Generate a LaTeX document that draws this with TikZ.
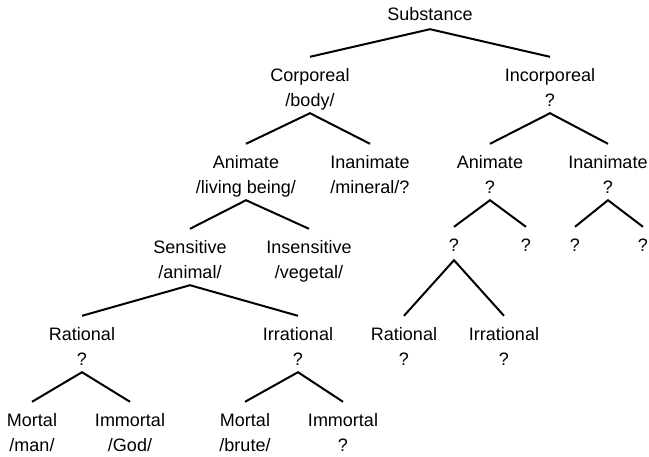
\documentclass[tikz,border=0pt]{standalone}
\usepackage{fontspec}
\setmainfont{Liberation Sans}
\begin{document}
\begin{tikzpicture}[x = 1pt, y = -1pt,
		term/.style = {align=center, inner sep=2pt, text height=47pt, text depth=5pt,
			font=\fontsize{18}{25}\selectfont},
		single/.style = {align=center, inner sep=2pt, text height=22pt, text depth=7pt,
			font=\fontsize{18}{25}\selectfont},
		branch/.style = {line width=2pt, line join=miter}]
	\useasboundingbox (0, 0) rectangle (649, 456);
	% Nodes
	\node[single] (sub) at (430, 12.5) {Substance};
	
	\node[term] (corp) at (310, 85) {Corporeal\\/body/};
	\node[term] (incorp) at (550, 85) {Incorporeal\\?};
	
	\node[term] (anim) at (246, 172) {Animate\\/living being/};
	\node[term] (inanim) at (370, 172) {Inanimate\\/mineral/?};
	\node[term] (ianim) at (490, 172) {Animate\\?};
	\node[term] (iinanim) at (608, 172) {Inanimate\\?};
	
	\node[term] (sens) at (190, 257) {Sensitive\\/animal/};
	\node[term] (insens) at (309, 257) {Insensitive\\/vegetal/};
	\node[single] (qa) at (454, 243.5) {?};
	\node[single] (qb) at (526, 243.5) {?};
	\node[single] (qc) at (575, 243.5) {?};
	\node[single] (qd) at (643, 243.5) {?};
	
	\node[term] (rat) at (82, 344) {Rational\\?};
	\node[term] (irrat) at (298, 344) {Irrational\\?};
	\node[term] (irat) at (404, 344) {Rational\\?};
	\node[term] (iirrat) at (504, 344) {Irrational\\?};
	
	\node[term] (mort) at (32, 430) {Mortal\\/man/};
	\node[term] (immort) at (130, 430) {Immortal\\/God/};
	\node[term] (bmort) at (245, 430) {Mortal\\/brute/};
	\node[term] (bimmort) at (343, 430) {Immortal\\?};
	
	% Edges
	\draw[branch] (corp.north) -- (sub.south) -- (incorp.north);
	\draw[branch] (anim.north) -- (corp.south) -- (inanim.north);
	\draw[branch] (ianim.north) -- (incorp.south) -- (iinanim.north);
	\draw[branch] (sens.north) -- (anim.south) -- (insens.north);
	\draw[branch] (qa.north) -- (ianim.south) -- (qb.north);
	\draw[branch] (qc.north) -- (iinanim.south) -- (qd.north);
	\draw[branch] (rat.north) -- (sens.south) -- (irrat.north);
	\draw[branch] (irat.north) -- (qa.south) -- (iirrat.north);
	\draw[branch] (mort.north) -- (rat.south) -- (immort.north);
	\draw[branch] (bmort.north) -- (irrat.south) -- (bimmort.north);
\end{tikzpicture}
\end{document}
